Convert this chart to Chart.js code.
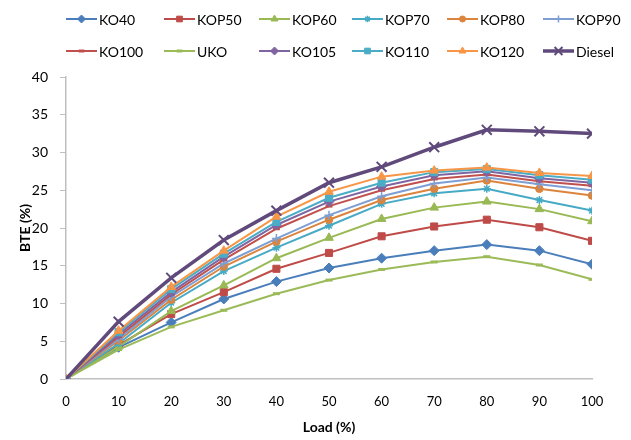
<!DOCTYPE html>
<html>
<head>
<meta charset="utf-8">
<script src="https://cdn.jsdelivr.net/npm/chart.js@4.4.1/dist/chart.umd.min.js"></script>
<style>
  html, body { margin: 0; padding: 0; background: #fff; }
  #wrap { width: 631px; height: 440px; }
</style>
</head>
<body>
<div id="wrap"><canvas id="mycanvas" width="631" height="440"></canvas></div>
<script>
// load (%) on the x axis
var loads = [0, 10, 20, 30, 40, 50, 60, 70, 80, 90, 100];
var yTicks = [0, 5, 10, 15, 20, 25, 30, 35, 40];

// BTE (%)
var KO40   = [0, 4.2, 7.5, 10.6, 12.9, 14.7, 16.0, 17.0, 17.8, 17.0, 15.2];
var KOP50  = [0, 4.5, 8.6, 11.5, 14.6, 16.7, 18.9, 20.2, 21.1, 20.1, 18.3];
var KOP60  = [0, 4.3, 9.0, 12.4, 16.0, 18.7, 21.2, 22.7, 23.5, 22.5, 20.9];
var KOP70  = [0, 4.7, 10.1, 14.3, 17.4, 20.3, 23.2, 24.6, 25.2, 23.7, 22.3];
var KOP80  = [0, 5.1, 10.5, 14.9, 18.2, 21.1, 23.7, 25.2, 26.3, 25.2, 24.3];
var KOP90  = [0, 5.3, 10.9, 15.3, 18.6, 21.7, 24.2, 25.9, 26.7, 25.8, 25.0];
var KO100  = [0, 5.6, 11.2, 15.8, 19.9, 22.9, 25.0, 26.5, 27.1, 26.2, 25.6];
var UKO    = [0, 3.9, 6.9, 9.1, 11.3, 13.1, 14.5, 15.5, 16.2, 15.1, 13.2];
var KO105  = [0, 5.9, 11.5, 16.2, 20.4, 23.5, 25.5, 27.0, 27.5, 26.6, 26.0];
var KO110  = [0, 6.2, 11.9, 16.6, 20.8, 24.0, 26.0, 27.4, 27.8, 27.0, 26.4];
var KO120  = [0, 6.4, 12.2, 17.0, 21.5, 24.8, 26.8, 27.6, 28.0, 27.3, 26.9];
var Diesel = [0, 7.6, 13.4, 18.4, 22.3, 26.0, 28.1, 30.7, 33.0, 32.8, 32.5];

var names  = ['KO40', 'KOP50', 'KOP60', 'KOP70', 'KOP80', 'KOP90', 'KO100', 'UKO', 'KO105', 'KO110', 'KO120', 'Diesel'];
var values = [KO40, KOP50, KOP60, KOP70, KOP80, KOP90, KO100, UKO, KO105, KO110, KO120, Diesel];
var colors = ['#4A7EBB', '#BE4B48', '#98B954', '#46AAC5', '#DB843D', '#7D9FD3',
              '#C0504D', '#9BBB59', '#8064A2', '#4BACC6', '#F79646', '#604A7B'];
var markers = ['rectRot', 'rect', 'triangle', 'star', 'circle', 'cross',
               'line', 'line', 'rectRot', 'rect', 'triangle', 'crossRot'];

// marker radius and stroke per style
var markerRadius = { rectRot: 5, rect: 5, triangle: 5, star: 4, circle: 3.8, cross: 4.5, line: 3.5, crossRot: 7 };
var markerStroke = { rectRot: 1, rect: 1, triangle: 1, star: 1.5, circle: 1, cross: 1.5, line: 3, crossRot: 2 };

var FONT = 'Lato, "Liberation Sans", sans-serif';

var datasets = [];
for (var i in names) {
  var n = Number(i);
  var isDiesel = names[n] === 'Diesel';
  datasets.push({
    label: names[n],
    data: loads.map(function(x, k) { return {x: x, y: values[n][k]}; }),
    borderColor: colors[n],
    backgroundColor: colors[n],
    borderWidth: isDiesel ? 3.5 : 2,
    pointStyle: markers[n],
    pointRadius: markerRadius[markers[n]],
    pointBorderWidth: markerStroke[markers[n]],
    pointBorderColor: colors[n],
    pointBackgroundColor: colors[n],
    tension: 0,
    order: 12 - n
  });
}

// excel style legend: line with marker, two rows of six
var legendCols = [66, 164, 259, 352, 447, 543];
var legendRows = [19, 51];
var gridLegend = {
  id: 'gridLegend',
  afterDraw: function(chart) {
    var ctx = chart.ctx;
    ctx.save();
    chart.data.datasets.forEach(function(ds, k) {
      var x0 = legendCols[k % 6];
      var y0 = legendRows[Math.floor(k / 6)];
      ctx.strokeStyle = ds.borderColor;
      ctx.lineWidth = ds.borderWidth;
      ctx.beginPath();
      ctx.moveTo(x0, y0);
      ctx.lineTo(x0 + 31, y0);
      ctx.stroke();
      ctx.fillStyle = ds.pointBackgroundColor;
      ctx.strokeStyle = ds.pointBorderColor;
      ctx.lineWidth = ds.pointBorderWidth;
      Chart.helpers.drawPoint(ctx, {pointStyle: ds.pointStyle, radius: ds.pointRadius * 0.8, rotation: 0, borderWidth: ds.pointBorderWidth}, x0 + 15.5, y0);
      ctx.fillStyle = '#000';
      ctx.font = '14px ' + FONT;
      ctx.textBaseline = 'middle';
      ctx.textAlign = 'left';
      ctx.fillText(ds.label, x0 + 33, y0 + 1);
    });
    ctx.restore();
  }
};

var ctx = document.getElementById('mycanvas');
var lineGraph = new Chart(ctx, {
  type: 'line',
  data: { datasets: datasets },
  plugins: [gridLegend],
  options: {
    responsive: false,
    animation: false,
    layout: { padding: { top: 77, right: 39, left: 0, bottom: 0 } },
    plugins: { legend: { display: false }, tooltip: { enabled: false } },
    scales: {
      x: {
        type: 'linear',
        min: 0, max: 100,
        afterFit: function(s) { s.height = 61; },
        ticks: { stepSize: 10, padding: 15, color: '#000', font: { family: FONT, size: 13 } },
        grid: { display: true, drawOnChartArea: false, drawTicks: false },
        border: { color: '#BFBFBF', width: 1.5 },
        title: { display: true, text: 'Load (%)', color: '#000', padding: { top: 0, bottom: 4 },
                 font: { family: FONT, size: 14, weight: 'bold' } }
      },
      y: {
        min: 0, max: 40,
        afterFit: function(s) { s.width = 66; },
        afterBuildTicks: function(s) { s.ticks = yTicks.map(function(v) { return {value: v}; }); },
        ticks: { padding: 12, color: '#000', font: { family: FONT, size: 14 } },
        grid: { display: true, drawOnChartArea: false, drawTicks: true, tickLength: 6, color: '#BFBFBF', lineWidth: 1 },
        border: { color: '#BFBFBF', width: 1.5 },
        title: { display: true, text: 'BTE (%)', color: '#000', padding: { top: 17, bottom: 0 },
                 font: { family: FONT, size: 14, weight: 'bold' } }
      }
    }
  }
});
</script>
</body>
</html>
